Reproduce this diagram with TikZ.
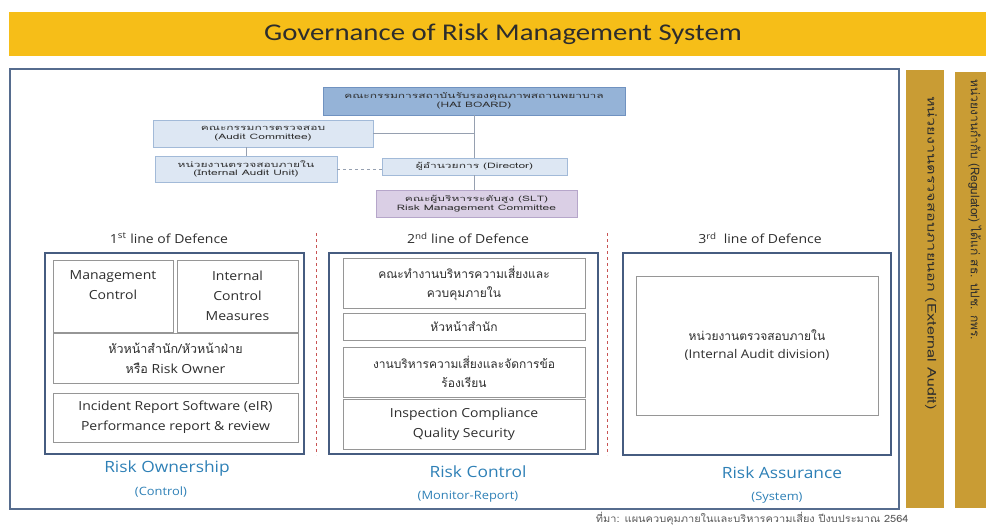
\documentclass[tikz,border=0pt]{standalone}
\usepackage{fontspec}
\setmainfont[FakeStretch=1.12]{Open Sans}
\newfontfamily\thai[Script=Thai]{Loma}
\newfontfamily\thaitop[Script=Thai,FakeStretch=1.6]{Loma}
\newfontfamily\thaiside[Script=Thai,FakeStretch=1.35]{Loma}
\newfontfamily\thaisrc[Script=Thai,FakeStretch=1.1]{Loma}
\newfontfamily\titlefont[FakeStretch=1.2]{Carlito}
\usetikzlibrary{positioning}
\definecolor{titleyellow}{RGB}{246,190,24}
\definecolor{ochre}{RGB}{201,156,52}
\definecolor{frameblue}{RGB}{86,108,142}
\definecolor{colframe}{RGB}{70,92,128}
\definecolor{ingray}{RGB}{150,150,150}
\definecolor{haifill}{RGB}{149,179,215}
\definecolor{hailine}{RGB}{112,146,192}
\definecolor{palefill}{RGB}{221,231,243}
\definecolor{paleline}{RGB}{162,186,216}
\definecolor{sltfill}{RGB}{218,207,229}
\definecolor{sltline}{RGB}{182,166,202}
\definecolor{headblue}{RGB}{46,128,182}
\definecolor{redline}{RGB}{200,84,84}
\definecolor{connline}{RGB}{150,160,176}
\definecolor{inktext}{RGB}{45,45,45}
\newcommand{\fsz}[2]{\fontsize{#1}{#2}\selectfont}

\begin{document}
\begin{tikzpicture}[x=1pt, y=-1pt, text=inktext,
    wh/.style 2 args={minimum width=#1, minimum height=#2},
    topbox/.style={draw=paleline, fill=palefill, line width=0.8pt, inner sep=0pt, align=center, font=\thaitop\fsz{7.5}{8.5}},
    colbox/.style={draw=colframe, line width=2.2pt, inner sep=0pt},
    inbox/.style={draw=ingray, line width=0.7pt, inner sep=0pt, align=center, font=\fsz{12.5}{20}},
    defence/.style={font=\fsz{12.5}{14}},
    riskhead/.style={text=headblue, font=\fsz{15.5}{18}},
    risksub/.style={text=headblue, font=\fsz{11.5}{13}},
    sidebar/.style={fill=ochre, inner sep=0pt},
    sidetext/.style={rotate=-90, font=\thai\fsz{12}{14}},
    conn/.style={draw=connline, line width=0.7pt},
    divider/.style={draw=redline, dashed, line width=0.7pt}
]
    \useasboundingbox (0,0) rectangle (986,528);

    % Title bar
    \node[fill=titleyellow, inner sep=0pt, wh={977}{44}] (titlebar) at (497.5,34) {};
    \node[font=\titlefont\fsz{24}{26}] (title) at (503,34) {Governance of Risk Management System};

    % Main frame and side bars
    \node[draw=frameblue, line width=1.6pt, inner sep=0pt, wh={889}{440}] (frame) at (454.5,289) {};
    \node[sidebar, wh={38}{438}] (extbar) at (925,289) {};
    \node[sidebar, wh={32}{436}] (regbar) at (971,290) {};
    \node[sidetext, font=\thaiside\fsz{12}{14}] (exttext) at (931,253) {หน่วยงานตรวจสอบภายนอก (External Audit)};
    \node[sidetext] (regtext) at (975,210) {หน่วยงานกำกับ (Regulator) ได้แก่ สธ. ปปช. กพร.};

    % Governance chart
    \node[topbox, draw=hailine, fill=haifill, wh={302}{28}] (hai) at (474,101) {คณะกรรมการสถาบันรับรองคุณภาพสถานพยาบาล\\(HAI BOARD)};
    \node[topbox, wh={220}{27}] (ac) at (263,133.5) {คณะกรรมการตรวจสอบ\\(Audit Committee)};
    \node[topbox, wh={182}{26}] (iau) at (246,169) {หน่วยงานตรวจสอบภายใน\\(Internal Audit Unit)};
    \node[topbox, wh={185}{17}] (dir) at (474.5,166.5) {ผู้อำนวยการ (Director)};
    \node[topbox, draw=sltline, fill=sltfill, wh={201}{27}] (slt) at (476.5,203.5) {คณะผู้บริหารระดับสูง (SLT)\\Risk Management Committee};

    \draw[conn] (hai.south) -- (hai.south |- dir.north);
    \draw[conn] (ac.east) -- (ac.east -| hai.south);
    \draw[conn] (iau.north) -- (iau.north |- ac.south);
    \draw[conn, dashed] (iau.east) -- (iau.east -| dir.west);
    \draw[conn] (dir.south) -- (dir.south |- slt.north);

    % Lines of defence
    \node[defence] (def1) at (169,238) {1\textsuperscript{st} line of Defence};
    \node[defence] (def2) at (468,238) {2\textsuperscript{nd} line of Defence};
    \node[defence] (def3) at (760,238) {3\textsuperscript{rd}\ \ line of Defence};

    \foreach \x in {316,607}
        \draw[divider] (\x,233) -- (\x,455);

    % 1st line
    \node[colbox, wh={259}{201}] (own) at (174.5,353.5) {};
    \node[inbox, wh={120}{72}] (mc) at (113,296) {};
    \node[inbox, below=11pt of mc.north, draw=none] (mctext) {Management\\Control};
    \node[inbox, wh={121}{72}] (icm) at (237.5,296) {Internal\\Control\\Measures};
    \node[inbox, wh={245}{50}] (owner) at (175.5,358) {\thai หัวหน้าสำนัก/หัวหน้าฝ่าย\\{\thai หรือ} Risk Owner};
    \node[inbox, wh={245}{49}] (eir) at (175.5,417.5) {Incident Report Software (eIR)\\Performance report \& review};
    \node[riskhead] (ownhead) at (167,468) {Risk Ownership};
    \node[risksub] (ownsub) at (161,492) {(Control)};

    % 2nd line
    \node[colbox, wh={269}{201}] (ctl) at (463.5,353.5) {};
    \node[inbox, wh={242}{50}, font=\thai\fsz{12}{19}] (rmwg) at (464,283) {คณะทำงานบริหารความเสี่ยงและ\\ควบคุมภายใน};
    \node[inbox, wh={242}{27}, font=\thai\fsz{12}{19}] (chief) at (464,326.5) {หัวหน้าสำนัก};
    \node[inbox, wh={242}{50}, font=\thai\fsz{12}{19}] (rmcu) at (464,372) {งานบริหารความเสี่ยงและจัดการข้อ\\ร้องเรียน};
    \node[inbox, wh={242}{50}] (icqs) at (464,424) {Inspection Compliance\\Quality Security};
    \node[riskhead] (ctlhead) at (478,472) {Risk Control};
    \node[risksub] (ctlsub) at (468,497) {(Monitor-Report)};

    % 3rd line
    \node[colbox, wh={268}{202}] (asr) at (757,354) {};
    \node[inbox, wh={242}{139}, font=\fsz{12}{18}] (iad) at (757,345.5) {{\thai หน่วยงานตรวจสอบภายใน}\\(Internal Audit division)};
    \node[riskhead] (asrhead) at (782,473) {Risk Assurance};
    \node[risksub] (asrsub) at (777,498) {(System)};

    % Source
    \node[anchor=east, font=\thaisrc\fsz{10}{11}, text=black!65] (source) at (912,519) {ที่มา: แผนควบคุมภายในและบริหารความเสี่ยง ปีงบประมาณ 2564};
\end{tikzpicture}
\end{document}
